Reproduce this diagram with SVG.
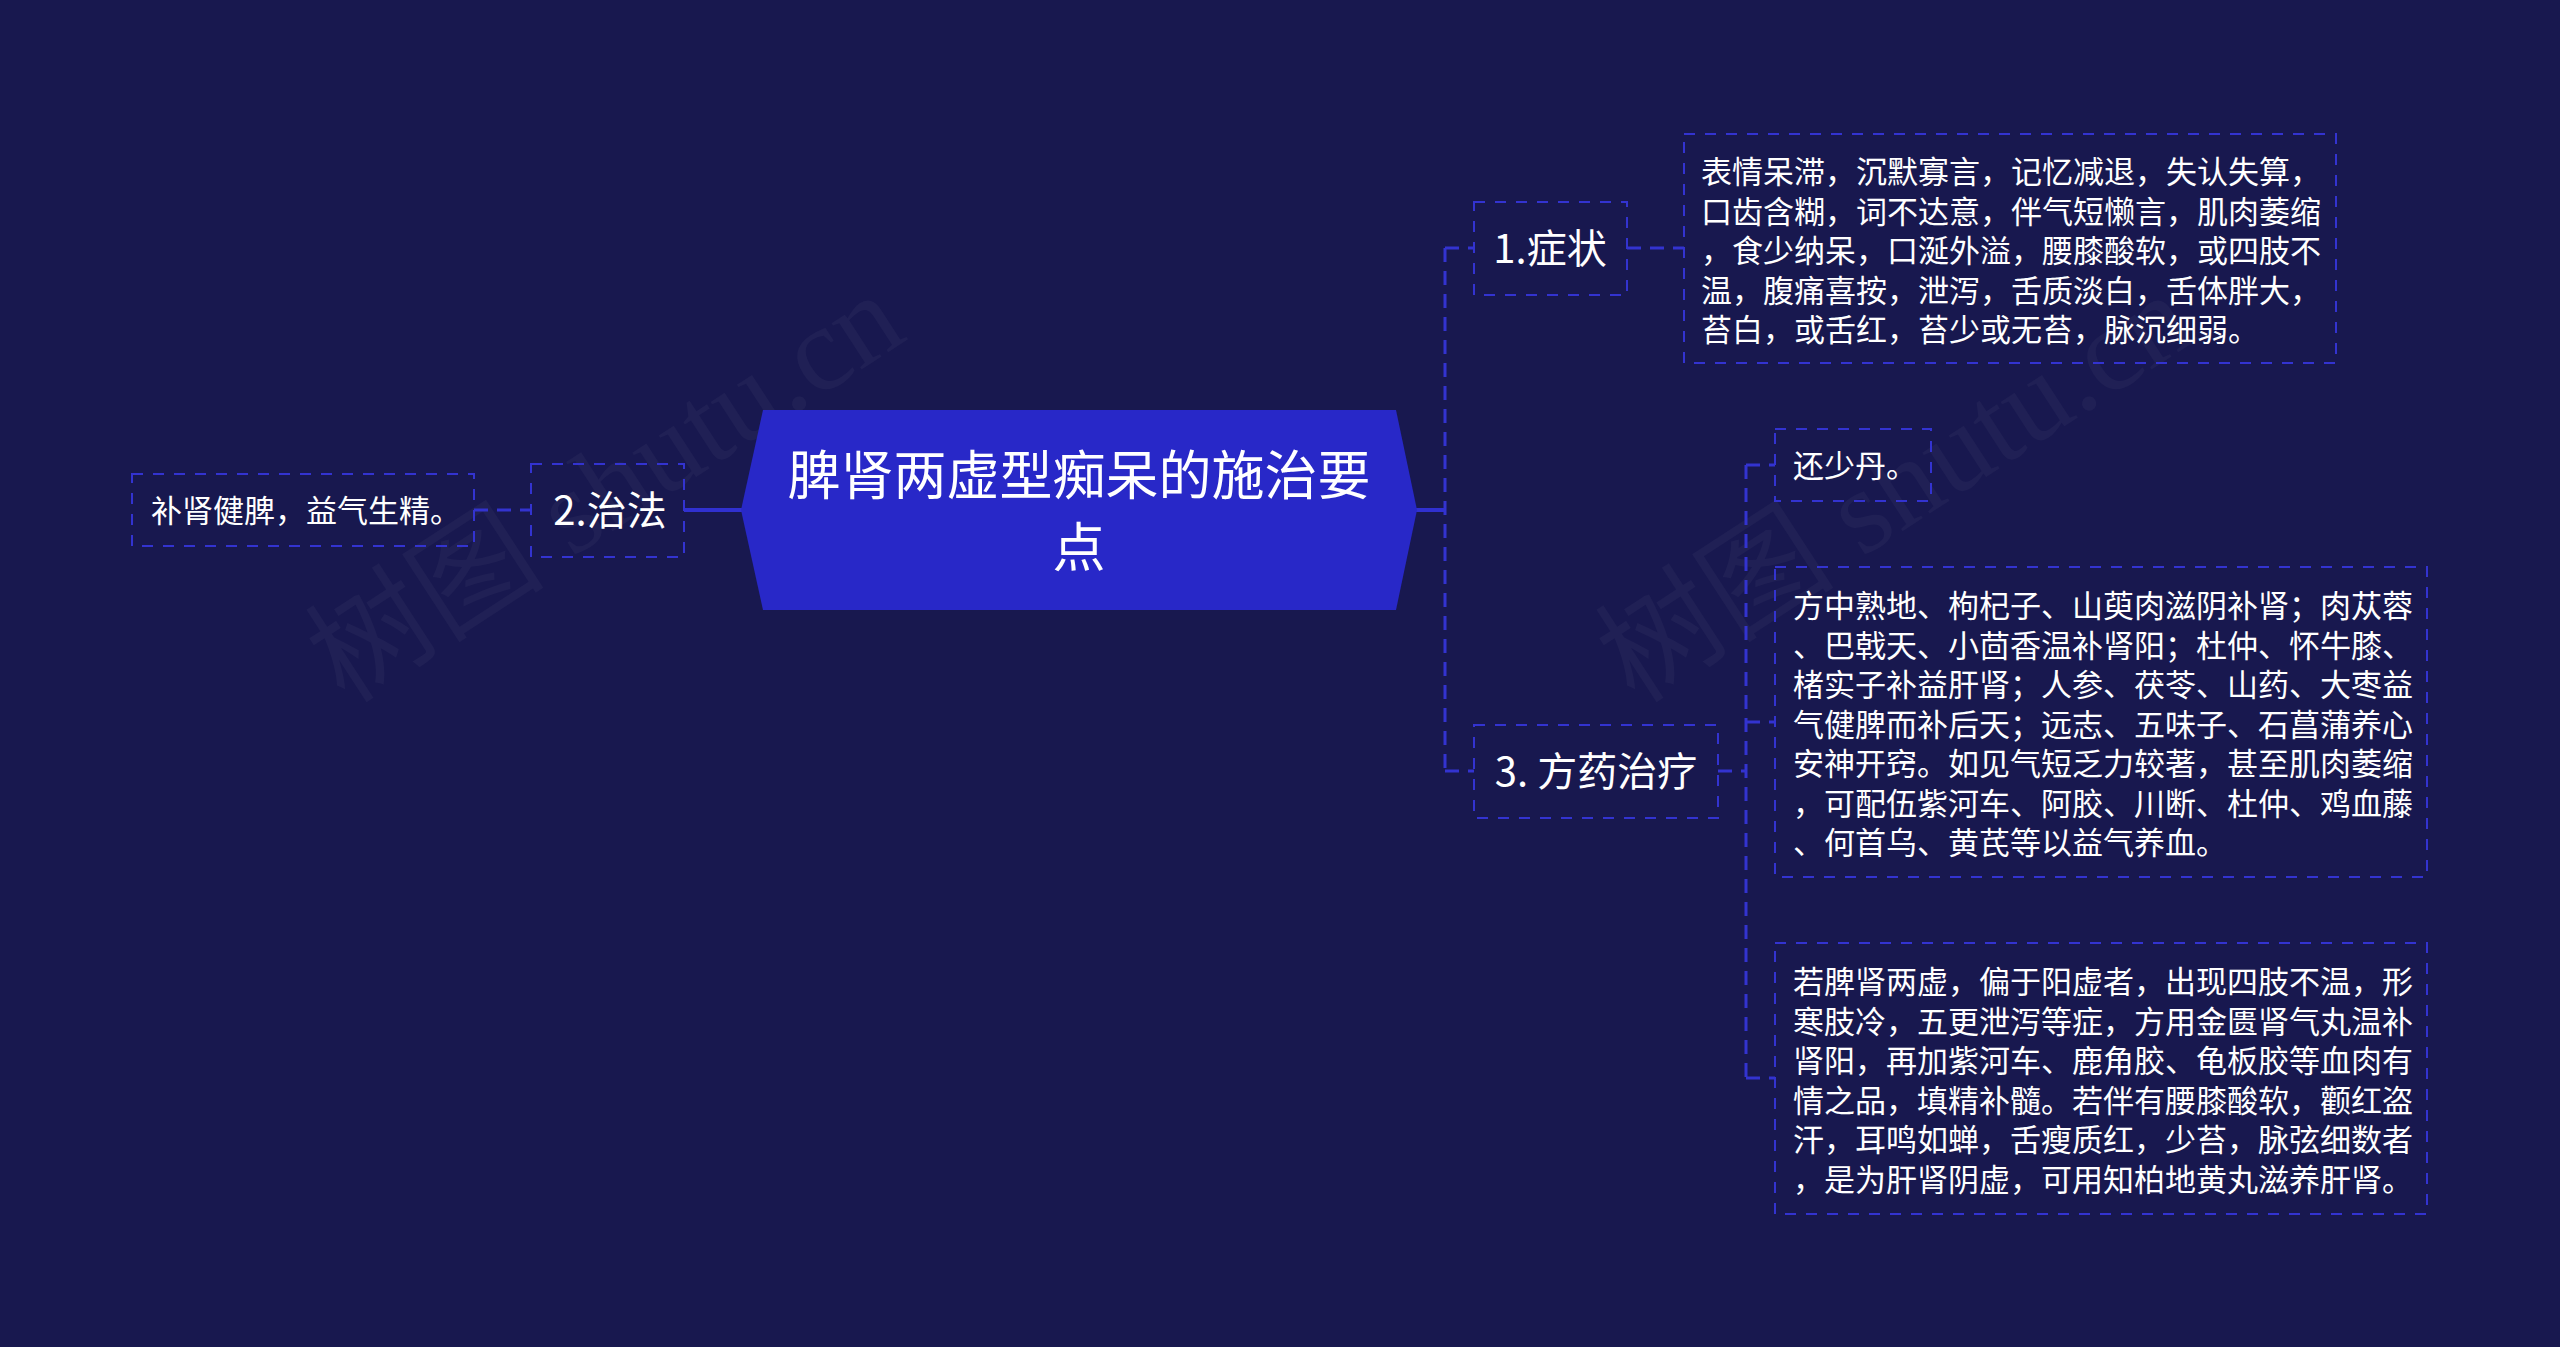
<svg xmlns="http://www.w3.org/2000/svg" width="2560" height="1347" viewBox="0 0 2560 1347">
<style>
.bg{fill:#18184f}
.box{fill:none;stroke:#3333d0;stroke-width:2;stroke-dasharray:11 10}
.conn{fill:none;stroke:#3333d0;stroke-width:3;stroke-dasharray:14 9}
.solid{fill:none;stroke:#3030d0;stroke-width:4}
.t{fill:#ffffff;font-family:"Noto Sans CJK SC","Noto Sans",sans-serif}
.leaf{font-size:31px}
.sub{font-size:40px}
.root{font-size:53px}
.wm{fill:#ffffff;fill-opacity:0.035;font-family:"Liberation Serif","Noto Sans CJK SC",serif;font-size:120px}
</style>
<rect class="bg" x="0" y="0" width="2560" height="1347"/>
<g id="watermarks">
<text class="wm" transform="translate(345,705) rotate(-33)">树图 shutu.cn</text>
<text class="wm" transform="translate(1635,705) rotate(-33)">树图 shutu.cn</text>
</g>
<g id="connectors">
<line class="conn" x1="474" y1="510" x2="531" y2="510"/>
<line class="solid" x1="684" y1="510" x2="742" y2="510"/>
<line class="solid" x1="1416" y1="510" x2="1445" y2="510"/>
<line class="conn" x1="1445" y1="248" x2="1445" y2="771"/>
<line class="conn" x1="1445" y1="248" x2="1474" y2="248"/>
<line class="conn" x1="1445" y1="771" x2="1474" y2="771"/>
<line class="conn" x1="1627" y1="248" x2="1684" y2="248"/>
<line class="conn" x1="1718" y1="771" x2="1746" y2="771"/>
<line class="conn" x1="1746" y1="465" x2="1746" y2="1078"/>
<line class="conn" x1="1746" y1="465" x2="1775" y2="465"/>
<line class="conn" x1="1746" y1="722" x2="1775" y2="722"/>
<line class="conn" x1="1746" y1="1078" x2="1775" y2="1078"/>
</g>
<g id="root">
<polygon points="741,510 763,410 1396,410 1417,510 1396,610 763,610" fill="#2828c8"/>
<text class="t root" text-anchor="middle"><tspan x="1079" y="495">脾肾两虚型痴呆的施治要</tspan><tspan x="1079" y="567">点</tspan></text>
</g>
<g id="n2">
<rect class="box" x="531" y="464" width="153" height="93"/>
<text class="t sub" x="610" y="525" text-anchor="middle">2.治法</text>
</g>
<g id="n2-leaf">
<rect class="box" x="132" y="474" width="342" height="72"/>
<text class="t leaf" x="151" y="522">补肾健脾，益气生精。</text>
</g>
<g id="n1">
<rect class="box" x="1474" y="202" width="153" height="93"/>
<text class="t sub" x="1550" y="263" text-anchor="middle">1.症状</text>
</g>
<g id="n1-leaf">
<rect class="box" x="1684" y="134" width="652" height="229"/>
<text class="t leaf"><tspan x="1701" y="183">表情呆滞，沉默寡言，记忆减退，失认失算，</tspan><tspan x="1701" y="222.5">口齿含糊，词不达意，伴气短懒言，肌肉萎缩</tspan><tspan x="1701" y="262">，食少纳呆，口涎外溢，腰膝酸软，或四肢不</tspan><tspan x="1701" y="301.5">温，腹痛喜按，泄泻，舌质淡白，舌体胖大，</tspan><tspan x="1701" y="341">苔白，或舌红，苔少或无苔，脉沉细弱。</tspan></text>
</g>
<g id="n3">
<rect class="box" x="1474" y="725" width="244" height="93"/>
<text class="t sub" x="1596" y="786" text-anchor="middle">3. 方药治疗</text>
</g>
<g id="n3-leaf1">
<rect class="box" x="1775" y="429" width="156" height="72"/>
<text class="t leaf" x="1793" y="477">还少丹。</text>
</g>
<g id="n3-leaf2">
<rect class="box" x="1775" y="567" width="652" height="310"/>
<text class="t leaf"><tspan x="1793" y="617">方中熟地、枸杞子、山萸肉滋阴补肾；肉苁蓉</tspan><tspan x="1793" y="656.5">、巴戟天、小茴香温补肾阳；杜仲、怀牛膝、</tspan><tspan x="1793" y="696">楮实子补益肝肾；人参、茯苓、山药、大枣益</tspan><tspan x="1793" y="735.5">气健脾而补后天；远志、五味子、石菖蒲养心</tspan><tspan x="1793" y="775">安神开窍。如见气短乏力较著，甚至肌肉萎缩</tspan><tspan x="1793" y="814.5">，可配伍紫河车、阿胶、川断、杜仲、鸡血藤</tspan><tspan x="1793" y="854">、何首乌、黄芪等以益气养血。</tspan></text>
</g>
<g id="n3-leaf3">
<rect class="box" x="1775" y="943" width="652" height="271"/>
<text class="t leaf"><tspan x="1793" y="993">若脾肾两虚，偏于阳虚者，出现四肢不温，形</tspan><tspan x="1793" y="1032.5">寒肢冷，五更泄泻等症，方用金匮肾气丸温补</tspan><tspan x="1793" y="1072">肾阳，再加紫河车、鹿角胶、龟板胶等血肉有</tspan><tspan x="1793" y="1111.5">情之品，填精补髓。若伴有腰膝酸软，颧红盗</tspan><tspan x="1793" y="1151">汗，耳鸣如蝉，舌瘦质红，少苔，脉弦细数者</tspan><tspan x="1793" y="1190.5">，是为肝肾阴虚，可用知柏地黄丸滋养肝肾。</tspan></text>
</g>
</svg>
